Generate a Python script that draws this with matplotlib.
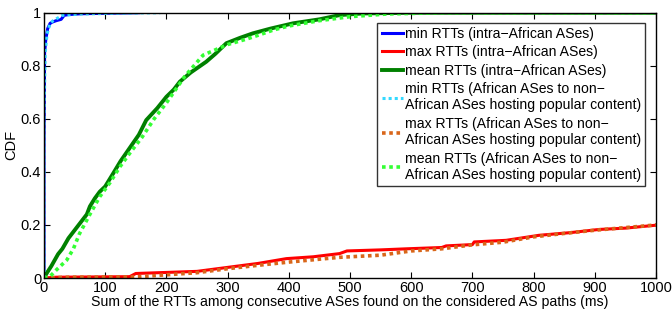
import matplotlib
matplotlib.use("Agg")
import matplotlib.pyplot as plt
from matplotlib.ticker import FuncFormatter

plt.rcParams['font.family'] = ['Liberation Sans', 'DejaVu Sans']

# min RTTs intra-African
min_intra_x = [0, 0, 1, 3, 6, 10, 14, 20, 28, 33, 40, 60, 100, 155]
min_intra_y = [0, 0.5, 0.85, 0.9, 0.94, 0.96, 0.965, 0.97, 0.975, 0.99, 0.993, 0.996, 0.998, 1.0]
# max RTTs intra-African
max_intra_x = [0, 20, 140, 150, 250, 300, 350, 396, 440, 483, 495, 550, 592, 650, 657, 700, 703, 755, 809, 860, 907, 950, 1000, 1050]
max_intra_y = [0, 0.003, 0.005, 0.017, 0.025, 0.04, 0.055, 0.073, 0.08, 0.092, 0.102, 0.106, 0.11, 0.115, 0.121, 0.126, 0.136, 0.142, 0.161, 0.171, 0.183, 0.188, 0.199, 0.21]
# mean RTTs intra-African
mean_intra_x = [0, 5, 12, 23, 30, 40, 50, 60, 70, 75, 83, 91, 100, 113, 125, 140, 155, 167, 185, 200, 212, 222, 240, 265, 280, 298, 320, 341, 370, 407, 450, 483, 520, 600, 1000]
mean_intra_y = [0, 0.02, 0.045, 0.09, 0.11, 0.15, 0.18, 0.21, 0.24, 0.27, 0.3, 0.325, 0.345, 0.394, 0.44, 0.49, 0.54, 0.595, 0.64, 0.683, 0.71, 0.74, 0.775, 0.815, 0.845, 0.885, 0.905, 0.922, 0.94, 0.96, 0.975, 0.991, 0.997, 1.0, 1.0]
# min RTTs African -> non-African
min_ext_x = [0, 0, 2, 5, 10, 15, 30, 60, 120, 190]
min_ext_y = [0, 0.6, 0.85, 0.92, 0.96, 0.97, 0.99, 0.995, 0.998, 1.0]
# max RTTs African -> non-African
max_ext_x = [0, 40, 150, 250, 300, 350, 400, 483, 500, 550, 600, 650, 700, 750, 800, 850, 900, 950, 1000, 1050]
max_ext_y = [0, 0.003, 0.004, 0.02, 0.035, 0.048, 0.06, 0.078, 0.08, 0.086, 0.102, 0.11, 0.125, 0.135, 0.155, 0.168, 0.18, 0.19, 0.2, 0.21]
# mean RTTs African -> non-African
mean_ext_x = [0, 9, 20, 37, 48, 58, 68, 75, 91, 108, 124, 140, 160, 180, 200, 215, 230, 245, 260, 280, 300, 330, 350, 375, 400, 450, 500, 560, 650, 1000]
mean_ext_y = [0, 0.004, 0.03, 0.067, 0.11, 0.167, 0.21, 0.24, 0.306, 0.36, 0.419, 0.47, 0.53, 0.6, 0.66, 0.71, 0.76, 0.8, 0.84, 0.86, 0.88, 0.9, 0.915, 0.935, 0.95, 0.97, 0.985, 0.995, 1.0, 1.0]

labels = [
    "min RTTs (intra\u2212African ASes)",
    "max RTTs (intra\u2212African ASes)",
    "mean RTTs (intra\u2212African ASes)",
    "min RTTs (African ASes to non\u2212\nAfrican ASes hosting popular content)",
    "max RTTs (African ASes to non\u2212\nAfrican ASes hosting popular content)",
    "mean RTTs (African ASes to non\u2212\nAfrican ASes hosting popular content)",
]

fig = plt.figure(figsize=(6.72, 3.14), dpi=100)
ax = fig.add_axes([44/672, 36/314, 612/672, 265.3/314])

lw = 2.2
ax.plot(min_intra_x, min_intra_y, color=(0, 0, 1), lw=lw, label=labels[0])
ax.plot(max_intra_x, max_intra_y, color=(1, 0, 0), lw=lw, label=labels[1])
ax.plot(mean_intra_x, mean_intra_y, color=(0, 0.5, 0), lw=lw + 0.6, label=labels[2])
ax.plot(min_ext_x, min_ext_y, color=(0.2, 0.85, 1.0), lw=lw, ls=(0, (1, 1)), label=labels[3])
ax.plot(max_ext_x, max_ext_y, color=(0.85, 0.4, 0.1), lw=lw + 0.4, ls=(0, (1, 1)), label=labels[4])
ax.plot(mean_ext_x, mean_ext_y, color=(0.2, 1.0, 0.2), lw=lw + 0.4, ls=(0, (1, 1)), label=labels[5])

ax.set_xlim(0, 1000)
ax.set_ylim(0, 1)
ax.set_xticks(range(0, 1001, 100))
ax.set_yticks([0, 0.2, 0.4, 0.6, 0.8, 1])
ax.yaxis.set_major_formatter(FuncFormatter(lambda v, p: "%g" % v))
ax.tick_params(direction='in', top=True, right=True, labelsize=10.5, length=4, pad=2, width=0.8)
for s in ax.spines.values():
    s.set_linewidth(1.0)
ax.set_xlabel("Sum of the RTTs among consecutive ASes found on the considered AS paths (ms)", fontsize=10.2, labelpad=0)
ax.set_ylabel("CDF", fontsize=10.5, labelpad=2)

leg = ax.legend(loc='upper right', bbox_to_anchor=(0.982, 0.963), fontsize=10.1, frameon=True,
                fancybox=False, edgecolor='black', handlelength=1.5, handletextpad=0.15,
                labelspacing=0.32, borderpad=0.3, borderaxespad=0)
leg.get_frame().set_linewidth(1.0)

fig.savefig("out.png", dpi=100)
